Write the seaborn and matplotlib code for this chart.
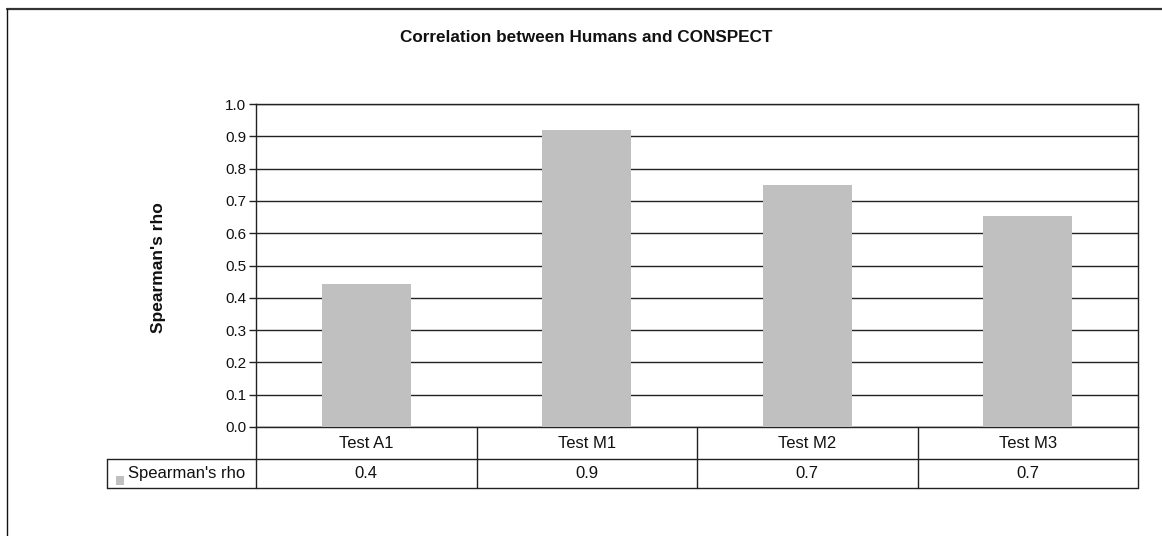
import matplotlib
matplotlib.use("Agg")
import matplotlib.pyplot as plt
import matplotlib.patches as mpatches
import seaborn as sns
import pandas as pd
import numpy as np

# ---- data ----
categories = ["Test A1", "Test M1", "Test M2", "Test M3"]
series_name = "Spearman's rho"
values = [0.443, 0.918, 0.748, 0.653]
y_ticks = [0.0, 0.1, 0.2, 0.3, 0.4, 0.5, 0.6, 0.7, 0.8, 0.9, 1.0]
title = "Correlation between Humans and CONSPECT"
y_label = "Spearman's rho"

df = pd.DataFrame({"category": categories, "value": values})

sns.set_theme(style="white")
plt.rcParams["font.family"] = ["Liberation Sans", "DejaVu Sans"]

W, H = 1162, 536
fig = plt.figure(figsize=(W / 100, H / 100), dpi=100)
ax = fig.add_axes([256 / W, 1 - 427 / H, (1138 - 256) / W, (427 - 104) / H])

bar_color = "#C0C0C0"
sns.barplot(data=df, x="category", y="value", color=bar_color, width=0.405,
            saturation=1, ax=ax, zorder=3, edgecolor="none")

ax.set_ylim(0, 1.0)
ax.set_xlim(-0.5, len(categories) - 0.5)
ax.set_yticks(y_ticks)
ax.set_yticklabels([f"{t:.1f}" for t in y_ticks], fontsize=11, color="#111")
ax.tick_params(axis="y", length=5, width=1, color="#222", pad=2, left=True)
ax.tick_params(axis="x", bottom=False, labelbottom=False)
ax.set_xlabel("")
ax.set_ylabel("")
for t in y_ticks:
    ax.axhline(t, color="#222", lw=1.0, zorder=1)
for s in ["left", "right", "bottom", "top"]:
    ax.spines[s].set_visible(True)
    ax.spines[s].set_color("#222")
    ax.spines[s].set_linewidth(1.0)

# title and y label
fig.text(586 / W, 1 - 37 / H, title, ha="center", va="center",
         fontsize=12.3, fontweight="bold", color="#111")
fig.text(158 / W, 1 - 268 / H, y_label, rotation=90, ha="center", va="center",
         fontsize=12.5, fontweight="bold", color="#111")

# ---- data table below the axes ----
ax_h = 427 - 104
hdr_bot = -(459 - 427) / ax_h
row_bot = -(488 - 427) / ax_h
cat_w = (1138 - 256) / len(categories)
label_left = -0.5 - (256 - 106.5) / cat_w
lkw = dict(color="#222", lw=1.0, clip_on=False, zorder=5)
trans = ax.get_xaxis_transform()
# horizontal lines
ax.plot([label_left, len(categories) - 0.5], [hdr_bot, hdr_bot], transform=trans, **lkw)
ax.plot([label_left, len(categories) - 0.5], [row_bot, row_bot], transform=trans, **lkw)
# vertical lines
for i in range(len(categories) + 1):
    ax.plot([i - 0.5, i - 0.5], [0, row_bot], transform=trans, **lkw)
ax.plot([label_left, label_left], [hdr_bot, row_bot], transform=trans, **lkw)

for i, (c, v) in enumerate(zip(categories, values)):
    ax.text(i, hdr_bot / 2, c, transform=trans, ha="center", va="center",
            fontsize=12, color="#111")
    ax.text(i, (hdr_bot + row_bot) / 2, f"{v:.1f}", transform=trans, ha="center",
            va="center", fontsize=12, color="#111")
# row label with legend key
ax.text(label_left + (128 - 106.5) / cat_w, (hdr_bot + row_bot) / 2, series_name,
        transform=trans, ha="left", va="center", fontsize=12, color="#111")
key = mpatches.Rectangle((116 / W, 1 - 484.5 / H), 8 / W, 9 / H, transform=fig.transFigure,
                         facecolor=bar_color, edgecolor="none")
fig.patches.append(key)

# outer chart frame (partially cropped)
fig.add_artist(plt.Line2D([7 / W, 1.0], [1 - 9 / H, 1 - 9 / H], transform=fig.transFigure,
                          color="#333", lw=1.6))
fig.add_artist(plt.Line2D([7 / W, 7 / W], [0.0, 1 - 9 / H], transform=fig.transFigure,
                          color="#111", lw=1.0))

fig.savefig("out.png", dpi=100, facecolor="white")
